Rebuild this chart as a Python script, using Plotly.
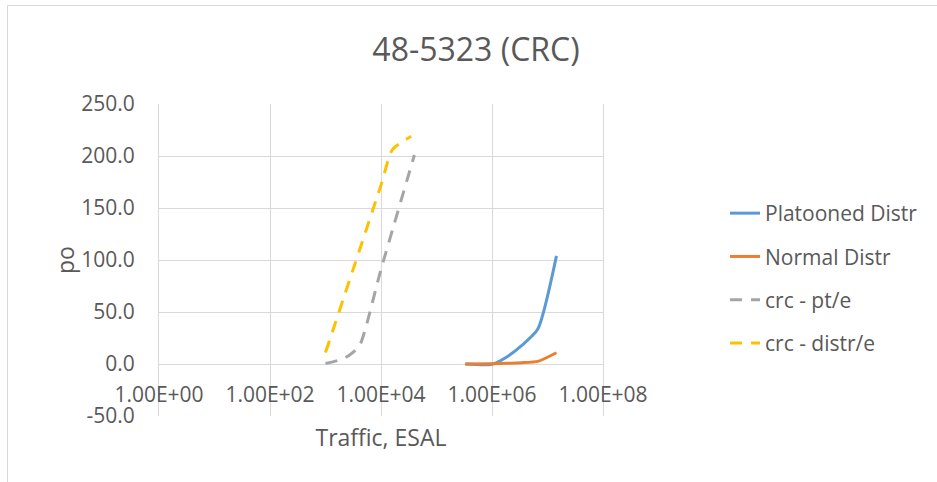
import plotly.graph_objects as go

# ---- data ----
traffic_trucks = [3.3e5, 1.0e6, 2.0e6, 3.4e6, 6.7e6, 1.45e7]
platooned_distr = [0.0, -0.3, 8.0, 17.6, 33.6, 104.0]
normal_distr = [0.0, 0.2, 0.7, 1.2, 2.5, 10.8]

traffic_pt = [1.0e3, 1.7e3, 2.6e3, 4.1e3, 1.0e4, 4.0e4]
crc_pt_e = [0.5, 3.5, 8.0, 17.6, 91.0, 201.0]

traffic_distr = [1.0e3, 1.0e4, 1.6e4, 3.5e4]
crc_distr_e = [11.0, 172.0, 206.0, 219.0]

x_tick_vals = [1e0, 1e2, 1e4, 1e6, 1e8]
x_tick_text = ["1.00E+00", "1.00E+02", "1.00E+04", "1.00E+06", "1.00E+08"]
y_tick_vals = [-50, 0, 50, 100, 150, 200, 250]
y_tick_text = ["-50.0", "0.0", "50.0", "100.0", "150.0", "200.0", "250.0"]

series_names = ["Platooned Distr", "Normal Distr", "crc - pt/e", "crc - distr/e"]
colors = ["#5B9BD5", "#ED7D31", "#A5A5A5", "#FFC000"]

FONT = "Open Sans"
TXT = "#595959"
GRID = "#D9D9D9"

W, H = 937, 482
L, R, T, B = 159, W - 603, 104, H - 416
PW, PH = W - L - R, H - T - B


def px_x(p):
    return (p - L) / PW


def px_y(p):
    return (H - B - p) / PH


fig = go.Figure()
data = [
    (traffic_trucks, platooned_distr, "solid"),
    (traffic_trucks, normal_distr, "solid"),
    (traffic_pt, crc_pt_e, "12px,9px"),
    (traffic_distr, crc_distr_e, "12px,9px"),
]
for i, (xs, ys, dash) in enumerate(data):
    fig.add_trace(go.Scatter(
        x=xs, y=ys, name=series_names[i], mode="lines",
        line=dict(color=colors[i], width=3, dash=dash, shape="spline", smoothing=0.6),
        legendgroup=str(i),
    ))

fig.update_layout(
    width=W, height=H,
    margin=dict(l=L, r=R, t=T, b=B, pad=0),
    paper_bgcolor="white", plot_bgcolor="white",
    font=dict(family=FONT, color=TXT, size=21),
    title=dict(text="48-5323 (CRC)", x=476 / W, xref="container", xanchor="center",
               y=1 - 50 / H, yref="container", yanchor="middle",
               font=dict(size=32, color=TXT, family=FONT)),
    showlegend=True,
    legend=dict(x=px_x(725), xanchor="left", y=px_y(193), yanchor="top",
                font=dict(size=21, color=TXT, family=FONT),
                tracegroupgap=13, bgcolor="rgba(0,0,0,0)"),
    xaxis=dict(type="log", range=[0, 8], tickvals=x_tick_vals, ticktext=x_tick_text,
               showgrid=True, gridcolor=GRID, gridwidth=1,
               showline=False, ticks="", anchor="free", position=50 / 300,
               ticklabelstandoff=16,
               tickfont=dict(size=21, color=TXT, family=FONT),
               title=dict(text="Traffic, ESAL", standoff=22,
                          font=dict(size=23, color=TXT, family=FONT))),
    yaxis=dict(range=[-50, 250], tickvals=y_tick_vals, ticktext=y_tick_text,
               showgrid=True, gridcolor=GRID, gridwidth=1,
               zeroline=True, zerolinecolor=GRID, zerolinewidth=1,
               showline=True, linecolor=GRID, linewidth=1, mirror=True,
               ticks="", ticklabelstandoff=19,
               tickfont=dict(size=21, color=TXT, family=FONT),
               title=dict(text="po", standoff=0,
                          font=dict(size=23, color=TXT, family=FONT))),
    shapes=[dict(type="rect", xref="paper", yref="paper",
                 x0=px_x(7.5), x1=px_x(960), y0=px_y(5.5), y1=px_y(500),
                 line=dict(color=GRID, width=1), fillcolor="rgba(0,0,0,0)", layer="below")],
)

fig.write_html("out.html", config={"displayModeBar": False},
               post_script="document.body.style.margin='0';document.body.style.padding='0';")
